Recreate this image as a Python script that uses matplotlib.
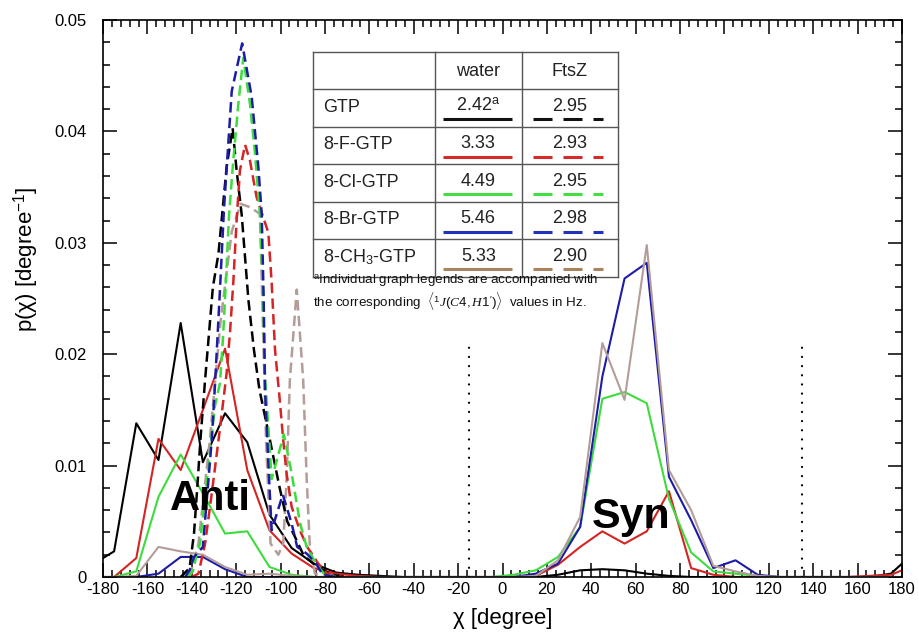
import matplotlib
matplotlib.use('Agg')
import matplotlib.pyplot as plt
from matplotlib.ticker import MultipleLocator

plt.rcParams['font.family'] = ['Liberation Sans', 'DejaVu Sans']
plt.rcParams['mathtext.fontset'] = 'custom'
plt.rcParams['mathtext.rm'] = 'Liberation Sans'
plt.rcParams['mathtext.it'] = 'Liberation Serif:italic'
plt.rcParams['mathtext.bf'] = 'Liberation Sans:bold'
plt.rcParams['axes.unicode_minus'] = False
plt.rcParams['lines.scale_dashes'] = False

# --- water (solid) : 10 degree bins, plus the two ends
chi = [-180, -175, -165, -155, -145, -135, -125, -115, -105, -95, -85, -75,
       -65, -55, -45, -35, -25, -15, -5, 5, 15, 25, 35, 45, 55, 65, 75, 85,
       95, 105, 115, 125, 135, 145, 155, 165, 175, 180]

water_gtp = [0.0017, 0.0023, 0.0138, 0.0105, 0.0228, 0.0103, 0.0147, 0.0121, 0.0056, 0.0026, 0.0012, 0.0004,
             0.0002, 0.0001, 0, 0, 0, 0, 0, 0, 0, 0.0002, 0.0006, 0.0007, 0.0006, 0.0003, 0.0001, 0,
             0, 0, 0, 0, 0, 0, 0, 0, 0.0003, 0.0012]
water_f = [0, 0, 0.0017, 0.0124, 0.0096, 0.0150, 0.0205, 0.0096, 0.0042, 0.0021, 0.0008, 0.0003,
           0.0001, 0, 0, 0, 0, 0, 0, 0, 0.0001, 0.0011, 0.0027, 0.0041, 0.0030, 0.0041, 0.0077, 0.0008,
           0.0002, 0, 0, 0, 0, 0, 0, 0.0001, 0.0002, 0.0006]
water_cl = [0, 0, 0.0005, 0.0072, 0.0110, 0.0075, 0.0039, 0.0041, 0.0009, 0.0002, 0, 0,
            0, 0, 0, 0, 0, 0, 0, 0.0002, 0.0006, 0.0018, 0.0045, 0.0160, 0.0166, 0.0156, 0.0070, 0.0022,
            0.0005, 0.0003, 0.0001, 0, 0, 0, 0, 0, 0, 0]
water_br = [0, 0, 0, 0.0003, 0.0018, 0.0018, 0.0007, 0, 0, 0, 0, 0,
            0, 0, 0, 0, 0, 0, 0, 0, 0.0003, 0.0012, 0.0045, 0.0180, 0.0268, 0.0282, 0.0090, 0.0051,
            0.0008, 0.0015, 0.0002, 0, 0, 0, 0, 0, 0, 0]
water_ch3 = [0, 0, 0.0001, 0.0027, 0.0023, 0.0020, 0.0009, 0.0002, 0.0003, 0.0001, 0, 0,
             0, 0, 0, 0, 0, 0, 0, 0, 0.0001, 0.0015, 0.0054, 0.0210, 0.0159, 0.0298, 0.0096, 0.0060,
             0.0010, 0.0005, 0.0001, 0, 0, 0, 0, 0, 0, 0]

# --- FtsZ (dashed)
ftsz_gtp_x = [-145, -141, -139, -137.5, -136, -134, -130.5, -128, -126, -124.3, -121.6, -119.8, -117.5,
              -114.5, -112, -109.5, -105, -100.5, -97, -93.5, -89.5, -84, -77, -70]
ftsz_gtp_y = [0, 0.0008, 0.0039, 0.0081, 0.0126, 0.0177, 0.0260, 0.0290, 0.0332, 0.0368, 0.0403, 0.0365, 0.0325,
              0.0249, 0.0204, 0.0168, 0.0125, 0.0081, 0.0050, 0.0036, 0.0019, 0.0010, 0.0002, 0]
ftsz_f_x = [-140, -137, -134, -131, -127.5, -124.3, -122.8, -121.3, -119.8, -118.3, -116, -113.8, -110.8,
            -105.5, -104, -102.5, -100.5, -98.8, -97.3, -95, -91.3, -88, -83, -79, -72]
ftsz_f_y = [0, 0.0003, 0.0030, 0.0075, 0.0130, 0.0183, 0.0219, 0.0264, 0.0320, 0.0365, 0.0388, 0.0374, 0.0341,
            0.0309, 0.0264, 0.0204, 0.0162, 0.0123, 0.0093, 0.0063, 0.0042, 0.0027, 0.0012, 0.0003, 0]
ftsz_cl_x = [-142, -139.5, -137.8, -136.3, -133, -129.6, -127.3, -125.8, -124.3, -123.2, -121.3, -119, -116.8,
             -113.8, -111.5, -109.3, -107.8, -107, -106.3, -104, -98.5, -95, -91.2, -88.2, -84, -80.5, -75]
ftsz_cl_y = [0, 0.0005, 0.0020, 0.0030, 0.0090, 0.0153, 0.0174, 0.0219, 0.0279, 0.0325, 0.0374, 0.0425, 0.0466,
             0.0425, 0.0380, 0.0325, 0.0249, 0.0180, 0.0159, 0.0088, 0.0128, 0.0093, 0.0048, 0.0027, 0.0012, 0.0003, 0]
ftsz_br_x = [-143, -141, -139, -135, -133, -131, -129.5, -127.5, -125.5, -122, -117.3, -113, -110,
             -108.5, -107.6, -107, -105, -104, -99, -95, -92.5, -88.2, -84, -81, -75]
ftsz_br_y = [0, 0.0006, 0.0018, 0.0027, 0.0075, 0.0123, 0.0174, 0.0250, 0.0330, 0.0436, 0.0479, 0.0431, 0.0368,
             0.0326, 0.0249, 0.0168, 0.0081, 0.0042, 0.0074, 0.0048, 0.0027, 0.0021, 0.0012, 0.0002, 0]
ftsz_ch3_x = [-141, -137, -132, -127, -122, -118, -113.8, -109.3, -106.5, -104.5, -101, -98.8, -97.3,
              -95.8, -92.7, -89.8, -88.2, -86.8, -84.5, -80]
ftsz_ch3_y = [0, 0.0030, 0.0120, 0.0230, 0.0310, 0.0335, 0.0332, 0.0326, 0.0120, 0.0030, 0.0020, 0.0030, 0.0087,
              0.0177, 0.0258, 0.0177, 0.0087, 0.0027, 0.0003, 0]

dotted_x = [-15, 135]
dotted_top = 0.0213

# table
compounds = ['GTP', '8-F-GTP', '8-Cl-GTP', '8-Br-GTP', '8-CH$_3$-GTP']
water_j = ['2.42$^{\\rm a}$', '3.33', '4.49', '5.46', '5.33']
ftsz_j = ['2.95', '2.93', '2.95', '2.98', '2.90']

plot_colors = ['#000000', '#d42424', '#3ddc3d', '#1c1ca6', '#b49c98']
table_colors = ['#111111', '#d42a2a', '#44dd44', '#2233bb', '#a8835f']

fig = plt.figure(figsize=(9.19, 6.38), dpi=100)
ax = fig.add_axes([103 / 919, 61 / 638, 799 / 919, 557 / 638])

water = [water_gtp, water_f, water_cl, water_br, water_ch3]
for ys, c in zip(water, plot_colors):
    ax.plot(chi, ys, color=c, lw=1.5)

ftsz = [(ftsz_gtp_x, ftsz_gtp_y), (ftsz_f_x, ftsz_f_y), (ftsz_cl_x, ftsz_cl_y),
        (ftsz_br_x, ftsz_br_y), (ftsz_ch3_x, ftsz_ch3_y)]
# brown one sits underneath the others
order = [4, 0, 1, 2, 3]
for k in order:
    xs, ys = ftsz[k]
    ax.plot(xs, ys, color=plot_colors[k], lw=1.8, dashes=(7.5, 3.8))

for xd in dotted_x:
    ax.plot([xd, xd], [0, dotted_top], color='black', lw=1.6,
            dashes=(0.1, 6.5), dash_capstyle='round')

ax.text(-150, 0.006, 'Anti', fontsize=30, fontweight='bold', ha='left', va='baseline')
ax.text(40, 0.0044, 'Syn', fontsize=31, fontweight='bold', ha='left', va='baseline')

ax.set_xlim(-180, 180)
ax.set_ylim(0, 0.05)
ax.xaxis.set_major_locator(MultipleLocator(20))
ax.xaxis.set_minor_locator(MultipleLocator(4))
ax.yaxis.set_major_locator(MultipleLocator(0.01))
ax.yaxis.set_minor_locator(MultipleLocator(0.002))
ax.set_yticks([0, 0.01, 0.02, 0.03, 0.04, 0.05])
ax.set_yticklabels(['0', '0.01', '0.02', '0.03', '0.04', '0.05'])
ax.tick_params(which='both', direction='in', top=True, right=True, width=1.1, labelsize=12)
ax.tick_params(which='major', length=10)
ax.tick_params(which='minor', length=5)
ax.tick_params(axis='x', pad=3.5)
ax.tick_params(axis='y', pad=11.5)
for s in ax.spines.values():
    s.set_linewidth(1.2)

ax.set_xlabel('χ [degree]', fontsize=16)
ax.xaxis.set_label_coords(0.5, -0.055)
ax.set_ylabel('p(χ) [degree$^{-1}$]', fontsize=16)
ax.yaxis.set_label_coords(-0.078, 0.571)

# legend table, laid out in pixel units of the reference
tab = fig.add_axes([313 / 919, 1 - 276.7 / 638, 305 / 919, 225 / 638])
tab.set_xlim(0, 305)
tab.set_ylim(225, 0)
tab.axis('off')
col_edges = [0, 122, 208.5, 305]
row_h = 225 / 6
edge_c = '#555555'
for xe in col_edges:
    tab.plot([xe, xe], [0, 225], color=edge_c, lw=1.0, clip_on=False)
for i in range(7):
    tab.plot([0, 305], [i * row_h, i * row_h], color=edge_c, lw=1.0, clip_on=False)

tfs = 13
tab.text((col_edges[1] + col_edges[2]) / 2, row_h / 2 + 1, 'water', fontsize=tfs,
         ha='center', va='center', color='#222222')
tab.text((col_edges[2] + col_edges[3]) / 2, row_h / 2 + 1, 'FtsZ', fontsize=tfs,
         ha='center', va='center', color='#222222')
for i, (name, wj, fj, c) in enumerate(zip(compounds, water_j, ftsz_j, table_colors)):
    top = (i + 1) * row_h
    tab.text(10, top + 18, name, fontsize=tfs, ha='left', va='center', color='#222222')
    tab.text((col_edges[1] + col_edges[2]) / 2, top + 17, wj, fontsize=tfs,
             ha='center', va='center', color='#222222')
    tab.text((col_edges[2] + col_edges[3]) / 2, top + 17, fj, fontsize=tfs,
             ha='center', va='center', color='#222222')
    tab.plot([130, 199], [top + 30, top + 30], color=c, lw=2.2, solid_capstyle='butt')
    tab.plot([220, 290], [top + 30, top + 30], color=c, lw=2.2,
             dashes=(13.7, 7.9), dash_capstyle='butt')

fig.text(313 / 919, 1 - 280.5 / 638, '$^{\\rm a}$Individual graph legends are accompanied with',
         fontsize=9.6, ha='left', va='center', color='#111111')
fig.text(313 / 919, 1 - 301 / 638,
         "the corresponding  $\\langle {}^{1}J(C4,H1')\\rangle$  values in Hz.",
         fontsize=9.6, ha='left', va='center', color='#111111')

fig.savefig('out.png', dpi=100)
